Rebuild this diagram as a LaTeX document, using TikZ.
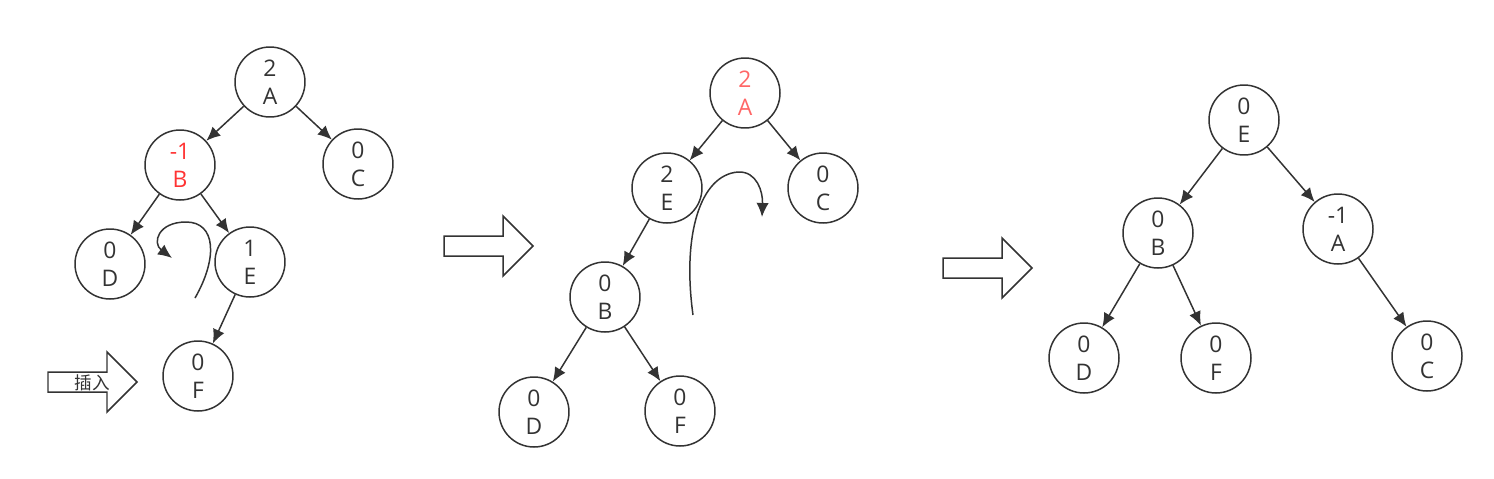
\documentclass[tikz,border=0pt]{standalone}
\usepackage{fontspec}
\setmainfont{Open Sans}
\newfontfamily\cjk{Noto Sans CJK SC}
\usetikzlibrary{arrows.meta}
\definecolor{InkGray}{HTML}{333333}
\definecolor{HotRed}{HTML}{FF3333}
\definecolor{SoftRed}{HTML}{FF6666}

\tikzset{
  avl/.style={circle, draw=InkGray, line width=0.85pt, minimum size=1.4cm, inner sep=0pt,
    align=center, text=InkGray, font=\fontsize{13}{16}\selectfont},
  edge/.style={InkGray, line width=0.85pt, -{Latex[length=8pt,width=7pt]}},
  blockarrow/.style={draw=InkGray, line width=0.85pt, fill=white}
}

\begin{document}
\begin{tikzpicture}[x=0.02cm, y=-0.02cm]
        \useasboundingbox (0,0) rectangle (1494,478);
        % before rotation
        \node[avl] (a1) at (270,82) {2\\A};
        \node[avl, text=HotRed] (b1) at (180,165) {-1\\B};
        \node[avl] (c1) at (358,164) {0\\C};
        \node[avl] (d1) at (110,264) {0\\D};
        \node[avl] (e1) at (250,262) {1\\E};
        \node[avl] (f1) at (198,376) {0\\F};
        \draw[edge] (a1) -- (b1);
        \draw[edge] (a1) -- (c1);
        \draw[edge] (b1) -- (d1);
        \draw[edge] (b1) -- (e1);
        \draw[edge] (e1) -- (f1);
        \draw[edge] (195,298) .. controls (218,258) and (216,222) .. (186,222)
                    .. controls (158,222) and (152,243) .. (172,258);
        % insert arrow
        \draw[blockarrow] (48,372) -- (107,372) -- (107,352) -- (137,382) -- (107,412)
                          -- (107,392) -- (48,392) -- cycle;
        \node[text=InkGray, font=\cjk\fontsize{10}{12}\selectfont] (ins) at (92,383) {插入};

        % first step
        \draw[blockarrow] (444,236) -- (503,236) -- (503,216) -- (533,246) -- (503,276)
                          -- (503,256) -- (444,256) -- cycle;
        \node[avl, text=SoftRed] (a2) at (745,93) {2\\A};
        \node[avl] (c2) at (823,188) {0\\C};
        \node[avl] (e2) at (667,188) {2\\E};
        \node[avl] (b2) at (605,297) {0\\B};
        \node[avl] (d2) at (534,412) {0\\D};
        \node[avl] (f2) at (680,411) {0\\F};
        \draw[edge] (a2) -- (e2);
        \draw[edge] (a2) -- (c2);
        \draw[edge] (e2) -- (b2);
        \draw[edge] (b2) -- (d2);
        \draw[edge] (b2) -- (f2);
        \draw[edge] (693,315) .. controls (682,235) and (700,175) .. (738,172)
                    .. controls (757,171) and (763,192) .. (762,217);

        % after rotation
        \draw[blockarrow] (943,258) -- (1002,258) -- (1002,238) -- (1032,268) -- (1002,298)
                          -- (1002,278) -- (943,278) -- cycle;
        \node[avl] (e3) at (1244,120) {0\\E};
        \node[avl] (b3) at (1158,233) {0\\B};
        \node[avl] (a3) at (1338,229) {-1\\A};
        \node[avl] (d3) at (1084,358) {0\\D};
        \node[avl] (f3) at (1216,358) {0\\F};
        \node[avl] (c3) at (1427,356) {0\\C};
        \draw[edge] (e3) -- (b3);
        \draw[edge] (e3) -- (a3);
        \draw[edge] (b3) -- (d3);
        \draw[edge] (b3) -- (f3);
        \draw[edge] (a3) -- (c3);
\end{tikzpicture}
\end{document}
